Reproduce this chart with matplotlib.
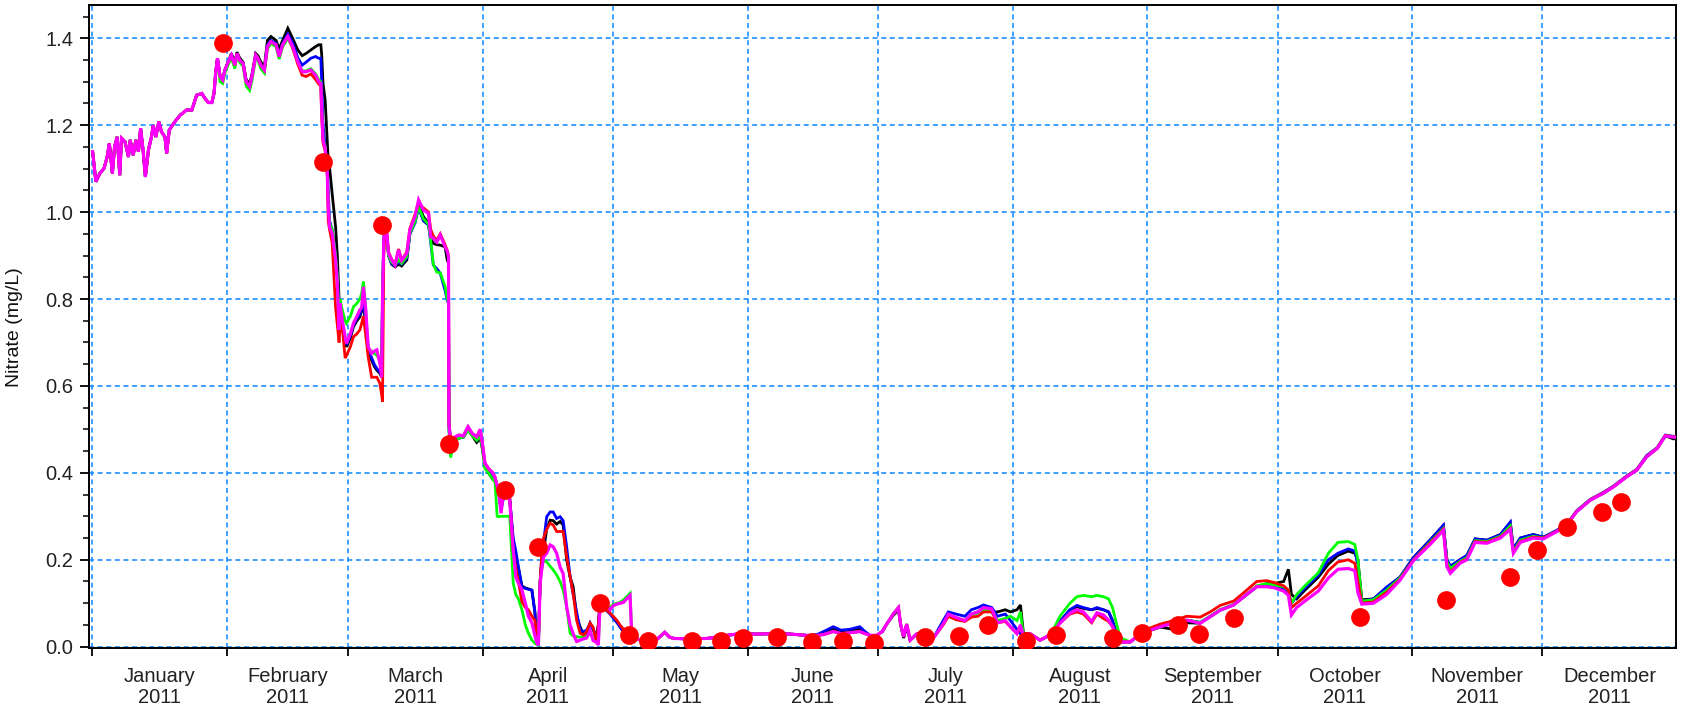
import numpy as np
import matplotlib
matplotlib.use("Agg")
import matplotlib.pyplot as plt
from matplotlib.ticker import FixedLocator, MultipleLocator, NullFormatter, FixedFormatter
import datetime as dt

# ---------------- data (day of year 2011, 0 = 1 January) ----------------
months = ["January", "February", "March", "April", "May", "June", "July",
          "August", "September", "October", "November", "December"]
year_label = "2011"

jan_days = [0.15, 0.9, 1.8, 2.8, 3.5, 4.0, 4.7, 5.2, 5.8, 6.4, 6.8, 7.6, 8.4, 8.8, 9.5,
            10.1, 10.7, 11.2, 11.8, 12.3, 13.0, 13.7, 14.1, 14.7, 15.4, 16.0, 16.8, 17.2,
            17.8, 19.1, 20.3, 21.8, 23.0, 24.1, 25.3, 26.0, 26.8, 27.6, 28.1]
jan_vals = [1.139, 1.070, 1.089, 1.101, 1.127, 1.158, 1.089, 1.150, 1.173, 1.085, 1.170,
            1.162, 1.127, 1.166, 1.131, 1.166, 1.139, 1.193, 1.139, 1.081, 1.143, 1.173,
            1.200, 1.173, 1.208, 1.185, 1.173, 1.135, 1.189, 1.208, 1.223, 1.235, 1.235,
            1.269, 1.273, 1.262, 1.252, 1.252, 1.273]

feb_days = [28.5, 28.9, 29.5, 30.1, 30.6, 31.4, 32.1, 32.9, 33.4, 34.0, 34.8, 35.5, 36.3,
            36.9, 37.7, 38.2, 38.9, 39.7, 40.4, 41.2, 42.4, 43.1, 43.9, 45.1, 46.2, 47.4,
            48.4, 49.3, 50.4, 51.5, 52.2, 52.7, 52.9, 53.2, 53.7, 54.2, 54.4, 54.7, 55.3,
            56.1, 56.5, 56.9]
feb_magenta = [1.323, 1.354, 1.312, 1.304, 1.327, 1.346, 1.361, 1.338, 1.365, 1.350,
               1.342, 1.300, 1.289, 1.315, 1.361, 1.354, 1.338, 1.327, 1.381, 1.392,
               1.385, 1.358, 1.385, 1.404, 1.381, 1.346, 1.323, 1.323, 1.327, 1.315,
               1.300, 1.296, 1.235, 1.166, 1.147, 1.089, 1.012, 0.966, 0.951, 0.890,
               0.836, 0.729]
feb_black = [1.323, 1.354, 1.312, 1.304, 1.327, 1.346, 1.365, 1.345, 1.368, 1.355,
             1.345, 1.305, 1.295, 1.320, 1.365, 1.360, 1.345, 1.335, 1.395, 1.404,
             1.395, 1.375, 1.395, 1.423, 1.400, 1.373, 1.360, 1.365, 1.373, 1.381,
             1.385, 1.385, 1.362, 1.296, 1.257, 1.158, 1.120, 1.104, 1.043, 0.966,
             0.900, 0.800]
feb_blue = [1.323, 1.354, 1.312, 1.304, 1.327, 1.346, 1.361, 1.338, 1.365, 1.350,
            1.342, 1.300, 1.289, 1.315, 1.361, 1.354, 1.338, 1.327, 1.385, 1.395,
            1.388, 1.362, 1.388, 1.410, 1.390, 1.355, 1.338, 1.345, 1.354, 1.358,
            1.354, 1.354, 1.300, 1.200, 1.150, 1.100, 1.050, 0.980, 0.960, 0.900,
            0.850, 0.750]
feb_green = [1.320, 1.345, 1.300, 1.296, 1.320, 1.340, 1.355, 1.330, 1.360, 1.345,
             1.335, 1.290, 1.280, 1.305, 1.355, 1.350, 1.330, 1.320, 1.375, 1.388,
             1.380, 1.352, 1.380, 1.400, 1.378, 1.345, 1.325, 1.325, 1.330, 1.318,
             1.305, 1.300, 1.240, 1.170, 1.150, 1.095, 1.020, 0.975, 0.960, 0.900,
             0.850, 0.760]
feb_red = [1.323, 1.354, 1.312, 1.304, 1.327, 1.346, 1.361, 1.338, 1.365, 1.350,
           1.342, 1.300, 1.289, 1.315, 1.361, 1.354, 1.338, 1.327, 1.381, 1.392,
           1.385, 1.358, 1.385, 1.404, 1.378, 1.340, 1.315, 1.312, 1.318, 1.305,
           1.295, 1.290, 1.220, 1.160, 1.140, 1.080, 0.980, 0.960, 0.930, 0.780,
           0.740, 0.700]

mar_days = [57.1, 57.5, 58.3, 58.6, 59.5, 60.2, 61.0, 61.7, 62.1, 62.5,
            63.0, 63.6, 64.4, 65.0, 65.6, 66.3, 66.7, 66.9, 67.2, 67.5,
            67.8, 68.3, 69.0, 69.8, 70.6, 71.3, 72.5, 73.2, 74.4, 75.2,
            76.3, 77.5, 78.0, 78.6, 79.4, 80.2, 81.3, 81.8, 82.1, 82.2,
            82.6, 83.1, 84.5, 85.5, 86.6, 87.6, 88.6, 89.4, 89.9, 90.5,
            91.3, 92.3, 92.8, 93.3, 93.6, 94.2, 94.9, 95.5, 96.2]
mar_magenta = [0.790, 0.760, 0.713, 0.698, 0.720, 0.744, 0.760, 0.775, 0.780, 0.828,
               0.782, 0.690, 0.675, 0.680, 0.683, 0.652, 0.620, 0.800, 0.940, 0.960,
               0.959, 0.905, 0.890, 0.878, 0.913, 0.889, 0.905, 0.959, 0.990, 1.028,
               1.005, 0.997, 0.943, 0.940, 0.931, 0.947, 0.920, 0.910, 0.897, 0.513,
               0.468, 0.480, 0.487, 0.485, 0.506, 0.490, 0.483, 0.500, 0.468, 0.422,
               0.410, 0.400, 0.390, 0.370, 0.360, 0.307, 0.368, 0.355, 0.337]
mar_black = [0.760, 0.740, 0.700, 0.690, 0.710, 0.736, 0.750, 0.759, 0.774, 0.780,
             0.750, 0.680, 0.659, 0.645, 0.636, 0.629, 0.620, 0.800, 0.940, 0.960,
             0.955, 0.900, 0.880, 0.874, 0.880, 0.876, 0.890, 0.950, 0.980, 1.020,
             0.990, 0.974, 0.940, 0.928, 0.925, 0.924, 0.920, 0.890, 0.882, 0.520,
             0.470, 0.475, 0.480, 0.482, 0.500, 0.485, 0.470, 0.480, 0.455, 0.415,
             0.400, 0.385, 0.380, 0.370, 0.360, 0.320, 0.350, 0.345, 0.340]
mar_blue = [0.770, 0.745, 0.705, 0.695, 0.715, 0.740, 0.755, 0.765, 0.778, 0.790,
            0.755, 0.685, 0.665, 0.650, 0.640, 0.632, 0.625, 0.800, 0.940, 0.960,
            0.955, 0.900, 0.882, 0.876, 0.885, 0.880, 0.895, 0.950, 0.975, 1.010,
            0.980, 0.970, 0.930, 0.878, 0.870, 0.859, 0.820, 0.797, 0.790, 0.500,
            0.440, 0.470, 0.480, 0.482, 0.500, 0.487, 0.475, 0.485, 0.460, 0.420,
            0.405, 0.390, 0.385, 0.372, 0.360, 0.315, 0.350, 0.345, 0.340]
mar_green = [0.800, 0.780, 0.750, 0.744, 0.760, 0.782, 0.790, 0.800, 0.813, 0.840,
             0.780, 0.683, 0.680, 0.675, 0.670, 0.660, 0.640, 0.800, 0.940, 0.960,
             0.955, 0.900, 0.885, 0.878, 0.890, 0.882, 0.898, 0.952, 0.978, 1.012,
             0.985, 0.972, 0.935, 0.880, 0.862, 0.860, 0.830, 0.800, 0.792, 0.500,
             0.435, 0.470, 0.480, 0.482, 0.498, 0.485, 0.475, 0.485, 0.455, 0.410,
             0.400, 0.385, 0.380, 0.300, 0.299, 0.300, 0.300, 0.300, 0.300]
mar_red = [0.730, 0.750, 0.664, 0.670, 0.690, 0.713, 0.720, 0.729, 0.744, 0.760,
           0.720, 0.667, 0.620, 0.620, 0.620, 0.606, 0.580, 0.564, 0.900, 0.960,
           0.962, 0.908, 0.892, 0.880, 0.915, 0.890, 0.908, 0.962, 0.995, 1.020,
           1.010, 1.000, 0.960, 0.945, 0.935, 0.950, 0.925, 0.912, 0.900, 0.513,
           0.468, 0.480, 0.487, 0.485, 0.506, 0.490, 0.483, 0.500, 0.468, 0.422,
           0.410, 0.400, 0.390, 0.370, 0.360, 0.330, 0.368, 0.355, 0.340]

apr_days = [97.0, 97.6, 98.2, 99.0, 99.8, 100.5, 101.3, 102.0, 102.4, 102.8,
            103.2, 103.6, 104.0, 104.7, 105.5, 106.2, 107.0, 107.8, 108.5, 109.3,
            110.1, 110.8, 111.6, 112.4, 113.2, 113.9, 114.7, 115.4, 116.2, 116.6,
            117.0, 117.6, 118.4, 119.3, 120.1, 120.9, 121.6, 122.4, 123.1, 123.9,
            124.3, 125.0, 126.0, 127.0]
apr_magenta = [0.222, 0.160, 0.146, 0.131, 0.100, 0.070, 0.055, 0.025, 0.010, 0.003,
               0.146, 0.180, 0.207, 0.215, 0.234, 0.230, 0.215, 0.183, 0.168, 0.092,
               0.050, 0.030, 0.012, 0.015, 0.018, 0.020, 0.037, 0.014, 0.010, 0.004,
               0.096, 0.100, 0.096, 0.085, 0.095, 0.098, 0.100, 0.102, 0.110, 0.118,
               0.025, 0.020, 0.016, 0.015]
apr_black = [0.240, 0.210, 0.180, 0.140, 0.135, 0.133, 0.130, 0.080, 0.010, 0.008,
             0.150, 0.200, 0.220, 0.270, 0.291, 0.290, 0.282, 0.288, 0.280, 0.200,
             0.160, 0.138, 0.070, 0.046, 0.027, 0.030, 0.054, 0.040, 0.023, 0.050,
             0.100, 0.095, 0.085, 0.077, 0.068, 0.058, 0.046, 0.035, 0.025, 0.020,
             0.018, 0.017, 0.016, 0.015]
apr_blue = [0.250, 0.220, 0.184, 0.138, 0.134, 0.132, 0.130, 0.077, 0.008, 0.006,
            0.150, 0.207, 0.240, 0.299, 0.310, 0.310, 0.295, 0.299, 0.290, 0.230,
            0.161, 0.120, 0.080, 0.038, 0.035, 0.038, 0.054, 0.040, 0.015, 0.050,
            0.100, 0.094, 0.084, 0.075, 0.065, 0.055, 0.045, 0.034, 0.025, 0.020,
            0.018, 0.017, 0.016, 0.015]
apr_green = [0.146, 0.120, 0.110, 0.085, 0.050, 0.031, 0.015, 0.008, 0.005, 0.004,
             0.150, 0.180, 0.200, 0.195, 0.185, 0.177, 0.165, 0.150, 0.130, 0.092,
             0.031, 0.025, 0.023, 0.022, 0.022, 0.025, 0.030, 0.020, 0.012, 0.006,
             0.096, 0.100, 0.100, 0.090, 0.098, 0.100, 0.102, 0.108, 0.115, 0.123,
             0.030, 0.022, 0.017, 0.015]
apr_red = [0.220, 0.180, 0.150, 0.103, 0.090, 0.085, 0.070, 0.060, 0.030, 0.010,
           0.150, 0.220, 0.250, 0.270, 0.284, 0.280, 0.265, 0.265, 0.265, 0.207,
           0.161, 0.123, 0.061, 0.031, 0.027, 0.035, 0.054, 0.045, 0.008, 0.050,
           0.100, 0.095, 0.085, 0.077, 0.069, 0.060, 0.050, 0.040, 0.030, 0.022,
           0.020, 0.018, 0.016, 0.015]

mj_days = [128.5, 130.0, 131.9, 133.0, 134.0, 137.0, 141.6, 144.0, 146.2, 149.2,
           153.0, 157.0, 160.8, 164.6, 167.0, 168.5, 170.7, 172.5, 174.5, 176.8,
           178.0, 179.2, 180.7, 182.0, 183.0, 184.5, 185.7, 186.2, 186.9, 187.6,
           188.4, 190.0, 191.5, 193.7, 196.0, 197.2, 199.0, 201.0, 202.5, 204.0,
           205.3, 207.2, 208.5, 210.3, 211.5, 213.0, 213.8, 214.5]
mj_magenta = [0.015, 0.016, 0.033, 0.022, 0.019, 0.018, 0.019, 0.022, 0.026, 0.030,
              0.029, 0.030, 0.029, 0.026, 0.026, 0.028, 0.035, 0.030, 0.032, 0.035,
              0.030, 0.026, 0.026, 0.035, 0.052, 0.075, 0.090, 0.052, 0.023, 0.052,
              0.015, 0.030, 0.025, 0.019, 0.052, 0.075, 0.067, 0.060, 0.075, 0.080,
              0.090, 0.087, 0.055, 0.060, 0.046, 0.030, 0.050, 0.023]
mj_black = [0.015, 0.016, 0.033, 0.022, 0.019, 0.018, 0.019, 0.022, 0.026, 0.030,
            0.029, 0.030, 0.029, 0.026, 0.026, 0.030, 0.040, 0.034, 0.036, 0.040,
            0.032, 0.026, 0.026, 0.035, 0.052, 0.072, 0.085, 0.050, 0.020, 0.045,
            0.015, 0.030, 0.025, 0.019, 0.055, 0.070, 0.065, 0.060, 0.075, 0.080,
            0.085, 0.080, 0.080, 0.085, 0.080, 0.085, 0.096, 0.030]
mj_blue = [0.015, 0.016, 0.033, 0.022, 0.019, 0.018, 0.019, 0.022, 0.026, 0.030,
           0.029, 0.030, 0.029, 0.026, 0.028, 0.035, 0.046, 0.038, 0.040, 0.046,
           0.035, 0.026, 0.026, 0.035, 0.052, 0.075, 0.088, 0.052, 0.023, 0.050,
           0.015, 0.030, 0.025, 0.019, 0.060, 0.080, 0.075, 0.070, 0.085, 0.090,
           0.096, 0.090, 0.070, 0.075, 0.060, 0.040, 0.030, 0.020]
mj_green = [0.015, 0.016, 0.033, 0.022, 0.019, 0.018, 0.019, 0.022, 0.026, 0.030,
            0.029, 0.030, 0.029, 0.026, 0.026, 0.028, 0.035, 0.030, 0.032, 0.035,
            0.030, 0.026, 0.026, 0.035, 0.052, 0.075, 0.090, 0.052, 0.023, 0.052,
            0.015, 0.030, 0.025, 0.019, 0.052, 0.072, 0.065, 0.060, 0.072, 0.078,
            0.085, 0.085, 0.060, 0.065, 0.070, 0.060, 0.080, 0.025]
mj_red = [0.015, 0.016, 0.033, 0.022, 0.019, 0.018, 0.019, 0.022, 0.026, 0.030,
          0.029, 0.030, 0.029, 0.026, 0.026, 0.028, 0.035, 0.030, 0.032, 0.035,
          0.030, 0.026, 0.026, 0.035, 0.052, 0.075, 0.090, 0.052, 0.023, 0.052,
          0.015, 0.030, 0.025, 0.019, 0.050, 0.070, 0.062, 0.058, 0.068, 0.070,
          0.080, 0.080, 0.055, 0.058, 0.045, 0.030, 0.045, 0.022]

ad_days = [216.0, 218.3, 219.9, 221.4, 222.9, 225.2, 226.8, 228.3, 230.2, 231.4,
           232.9, 234.1, 235.0, 236.0, 236.8, 239.1, 240.6, 242.9, 246.0, 249.0,
           252.1, 255.2, 257.5, 259.8, 262.9, 265.9, 268.2, 270.5, 272.1, 274.4,
           275.5, 276.2, 277.4, 279.3, 282.4, 284.7, 286.9, 289.3, 290.8, 291.5,
           292.4, 295.1, 298.1, 301.2, 304.3, 308.1, 311.2, 312.0, 312.8, 315.0,
           316.6, 318.5, 321.2, 324.3, 326.6, 327.3, 328.9, 331.9, 334.2, 337.3,
           339.6, 341.9, 345.0, 348.0, 350.4, 353.4, 355.7, 358.0, 360.4, 362.3,
           364.2, 364.7]
ad_magenta = [0.030, 0.015, 0.023, 0.035, 0.054, 0.077, 0.085, 0.080, 0.058, 0.078,
              0.073, 0.061, 0.046, 0.023, 0.011, 0.011, 0.023, 0.035, 0.046, 0.054,
              0.061, 0.054, 0.069, 0.084, 0.096, 0.120, 0.138, 0.138, 0.136, 0.128,
              0.118, 0.073, 0.090, 0.105, 0.128, 0.158, 0.178, 0.180, 0.175, 0.125,
              0.098, 0.100, 0.120, 0.153, 0.198, 0.235, 0.268, 0.184, 0.169, 0.192,
              0.200, 0.240, 0.238, 0.250, 0.270, 0.215, 0.240, 0.250, 0.248, 0.265,
              0.280, 0.311, 0.337, 0.353, 0.368, 0.391, 0.406, 0.437, 0.456, 0.485,
              0.482, 0.482]
ad_black = [0.030, 0.015, 0.023, 0.035, 0.058, 0.085, 0.092, 0.088, 0.085, 0.088,
            0.085, 0.080, 0.060, 0.025, 0.011, 0.011, 0.023, 0.035, 0.045, 0.040,
            0.055, 0.054, 0.069, 0.084, 0.096, 0.120, 0.138, 0.145, 0.145, 0.150,
            0.178, 0.120, 0.110, 0.130, 0.160, 0.190, 0.210, 0.220, 0.215, 0.200,
            0.108, 0.110, 0.135, 0.160, 0.205, 0.245, 0.278, 0.200, 0.185, 0.200,
            0.210, 0.248, 0.245, 0.258, 0.285, 0.225, 0.250, 0.258, 0.252, 0.265,
            0.280, 0.311, 0.337, 0.353, 0.368, 0.391, 0.406, 0.437, 0.456, 0.485,
            0.478, 0.480]
ad_blue = [0.030, 0.015, 0.023, 0.035, 0.058, 0.085, 0.095, 0.090, 0.085, 0.090,
           0.085, 0.080, 0.060, 0.025, 0.011, 0.011, 0.023, 0.035, 0.046, 0.054,
           0.061, 0.056, 0.070, 0.085, 0.097, 0.120, 0.138, 0.140, 0.138, 0.135,
           0.125, 0.100, 0.115, 0.135, 0.165, 0.200, 0.215, 0.225, 0.220, 0.190,
           0.105, 0.110, 0.137, 0.160, 0.205, 0.245, 0.280, 0.200, 0.185, 0.200,
           0.210, 0.248, 0.245, 0.258, 0.287, 0.225, 0.250, 0.258, 0.252, 0.268,
           0.282, 0.313, 0.339, 0.355, 0.370, 0.393, 0.408, 0.440, 0.458, 0.487,
           0.484, 0.484]
ad_green = [0.030, 0.015, 0.023, 0.040, 0.070, 0.100, 0.115, 0.118, 0.115, 0.118,
            0.115, 0.110, 0.090, 0.050, 0.020, 0.011, 0.023, 0.035, 0.046, 0.054,
            0.061, 0.056, 0.070, 0.085, 0.097, 0.120, 0.140, 0.145, 0.142, 0.138,
            0.130, 0.100, 0.120, 0.140, 0.170, 0.215, 0.240, 0.242, 0.235, 0.200,
            0.105, 0.108, 0.130, 0.158, 0.200, 0.240, 0.272, 0.195, 0.180, 0.196,
            0.205, 0.244, 0.242, 0.254, 0.278, 0.220, 0.245, 0.254, 0.250, 0.266,
            0.281, 0.312, 0.338, 0.354, 0.369, 0.392, 0.407, 0.438, 0.457, 0.486,
            0.483, 0.483]
ad_red = [0.030, 0.015, 0.023, 0.035, 0.054, 0.075, 0.080, 0.075, 0.055, 0.075,
          0.065, 0.058, 0.046, 0.023, 0.011, 0.011, 0.025, 0.040, 0.052, 0.060,
          0.070, 0.068, 0.080, 0.095, 0.105, 0.130, 0.150, 0.152, 0.148, 0.140,
          0.130, 0.090, 0.100, 0.115, 0.140, 0.175, 0.195, 0.200, 0.192, 0.150,
          0.100, 0.103, 0.125, 0.155, 0.200, 0.238, 0.270, 0.188, 0.172, 0.194,
          0.202, 0.242, 0.240, 0.252, 0.272, 0.218, 0.242, 0.252, 0.250, 0.266,
          0.281, 0.312, 0.338, 0.354, 0.369, 0.392, 0.407, 0.438, 0.457, 0.486,
          0.483, 0.483]

obs_days = [30.1, 53.1, 66.8, 82.1, 95.1, 102.8, 117.0, 123.6, 128.0, 138.1, 144.9,
            149.8, 157.8, 165.7, 172.9, 180.0, 191.8, 199.6, 206.4, 215.0, 222.0,
            235.0, 241.9, 250.0, 255.0, 262.9, 292.0, 311.8, 326.6, 332.8, 339.6,
            347.7, 352.1]
obs_vals = [1.388, 1.116, 0.970, 0.466, 0.361, 0.230, 0.100, 0.027, 0.013, 0.014, 0.012,
            0.020, 0.022, 0.010, 0.012, 0.008, 0.023, 0.024, 0.050, 0.013, 0.027,
            0.020, 0.031, 0.050, 0.029, 0.065, 0.069, 0.107, 0.161, 0.222, 0.276,
            0.311, 0.334]


def join(*parts):
    return np.concatenate([np.asarray(p, dtype=float) for p in parts])


days = join(jan_days, feb_days, mar_days, apr_days, mj_days, ad_days)
series = [
    ("black", join(jan_vals, feb_black, mar_black, apr_black, mj_black, ad_black), 2.0),
    ("#0000FF", join(jan_vals, feb_blue, mar_blue, apr_blue, mj_blue, ad_blue), 2.0),
    ("#00FF00", join(jan_vals, feb_green, mar_green, apr_green, mj_green, ad_green), 2.0),
    ("#FF0000", join(jan_vals, feb_red, mar_red, apr_red, mj_red, ad_red), 2.0),
    ("#FF00FF", join(jan_vals, feb_magenta, mar_magenta, apr_magenta, mj_magenta, ad_magenta), 2.3),
]

# ---------------- figure ----------------
plt.rcParams["font.family"] = ["Liberation Sans", "DejaVu Sans"]
plt.rcParams["lines.scale_dashes"] = False

fig = plt.figure(figsize=(16.83, 7.11), dpi=100)
ax = fig.add_axes([0.0531, 0.0882, 0.9426, 0.9048])

for color, vals, lw in series:
    ax.plot(days, vals, color=color, lw=lw, solid_joinstyle="miter", zorder=3)

ax.plot(obs_days, obs_vals, "o", color="#FF0000", ms=13.5, mec="none", zorder=5)

ax.set_xlim(-0.6, 364.7)
ax.set_ylim(-0.0037, 1.4766)

# month boundaries / mid-month labels
base = dt.date(2011, 1, 1)
starts = [(dt.date(2011, m, 1) - base).days for m in range(1, 13)]
ends = starts[1:] + [(dt.date(2012, 1, 1) - base).days]
mids = [(a + b) / 2.0 for a, b in zip(starts, ends)]

ax.xaxis.set_major_locator(FixedLocator(starts))
ax.xaxis.set_major_formatter(NullFormatter())
ax.xaxis.set_minor_locator(FixedLocator(mids))
ax.xaxis.set_minor_formatter(FixedFormatter([f"{m}\n{year_label}" for m in months]))
ax.tick_params(axis="x", which="major", direction="out", length=6, width=1.3, color="black")
ax.tick_params(axis="x", which="minor", length=0, pad=13.5, labelsize=14.5, labelcolor="#222222")
for lab in ax.xaxis.get_minorticklabels():
    lab.set_linespacing(1.1)

ax.yaxis.set_major_locator(MultipleLocator(0.2))
ax.yaxis.set_minor_locator(MultipleLocator(0.05))
ax.yaxis.set_major_formatter(matplotlib.ticker.FormatStrFormatter("%.1f"))
ax.tick_params(axis="y", which="major", direction="out", length=6.5, width=1.3,
               labelsize=14.5, labelcolor="#222222", pad=5)
ax.tick_params(axis="y", which="minor", direction="out", length=4, width=1.1)

ax.set_ylabel("Nitrate (mg/L)", fontsize=14, color="#111111")
ax.yaxis.set_label_coords(-0.042, 0.5)

ax.set_axisbelow(True)
ax.grid(which="major", color="#1E90FF", lw=1.2, linestyle=(0, (3.6, 2.6)))

for sp in ax.spines.values():
    sp.set_linewidth(1.4)
    sp.set_color("black")

fig.savefig("out.png", dpi=100)
